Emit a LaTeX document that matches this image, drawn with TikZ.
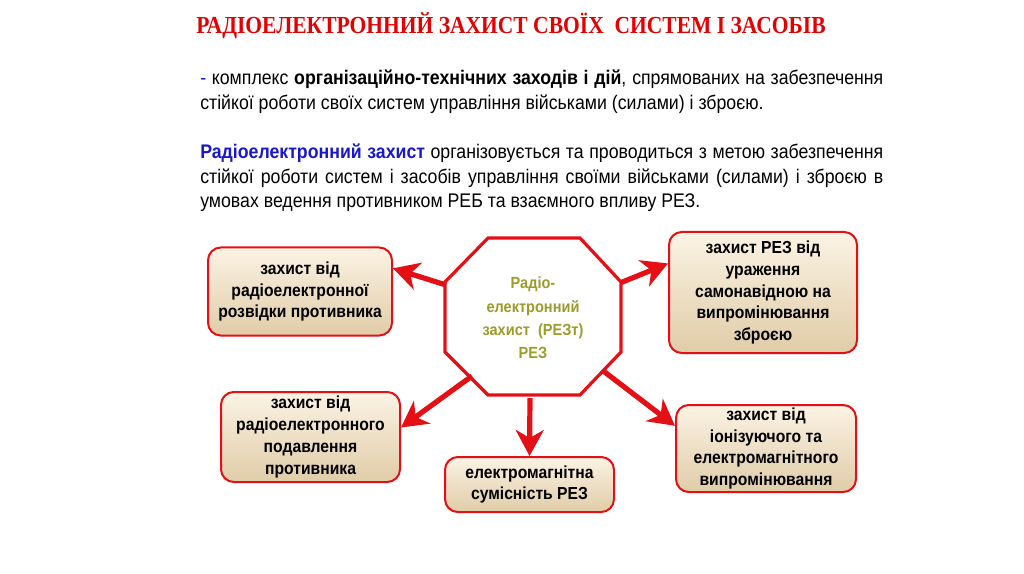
\documentclass[tikz,border=0pt]{standalone}
\usepackage{fontspec}
\setmainfont{Liberation Sans}
\newfontfamily\titlefont[FakeStretch=0.88]{Liberation Serif}
\newfontfamily\narrowfont[FakeStretch=0.9]{Liberation Sans}
\usetikzlibrary{positioning,arrows.meta}
\definecolor{rezred}{RGB}{228,16,22}
\definecolor{titlered}{RGB}{226,0,0}
\definecolor{rezblue}{RGB}{24,24,200}
\definecolor{coretext}{RGB}{156,156,44}
\definecolor{boxtop}{RGB}{251,243,228}
\definecolor{boxbot}{RGB}{224,204,168}
\tikzset{
  zone/.style={draw=rezred,line width=0.5mm,rounded corners=3.2mm,top color=boxtop,bottom color=boxbot,
    align=center,inner sep=0pt,font=\narrowfont\bfseries\fontsize{12.4}{15.6}\selectfont},
  octo/.style={draw=rezred,line width=0.8mm,fill=white},
  link/.style={draw=rezred,line width=1.3mm,-{Stealth[length=6.5mm,width=7mm,inset=2mm]}},
  para/.style={anchor=north west,inner sep=0pt,text width=170.75mm,align=justify,
    font=\narrowfont\fontsize{14}{17.3}\selectfont},
  headline/.style={inner sep=0pt,text=titlered,font=\titlefont\bfseries\fontsize{17.4}{20}\selectfont}
}
\begin{document}
\begin{tikzpicture}[x=0.25mm,y=-0.25mm]
  \useasboundingbox (0,0) rectangle (1024,574);
  % title and text
  \node[headline] (title) at (511,26) {РАДІОЕЛЕКТРОННИЙ ЗАХИСТ СВОЇХ\ \ СИСТЕМ І ЗАСОБІВ};
  \node[para] (p1) at (200,70) {{\color{rezblue}-} комплекс \textbf{організаційно-технічних заходів і дій}, спрямованих на забезпечення\linebreak
    стійкої роботи своїх систем управління військами (силами) і зброєю.};
  \node[para,below=7.6mm of p1.south west,anchor=north west] (p2) {\textcolor{rezblue}{\textbf{Радіоелектронний захист}} організовується та проводиться з метою забезпечення\linebreak
    стійкої роботи систем і засобів управління своїми військами (силами) і зброєю в\linebreak
    умовах ведення противником РЕБ та взаємного впливу РЕЗ.};
  % octagon
  \coordinate (o1) at (488,238); \coordinate (o2) at (580,238);
  \coordinate (o3) at (621,282); \coordinate (o4) at (621,352);
  \coordinate (o5) at (580,395); \coordinate (o6) at (488,395);
  \coordinate (o7) at (445,352); \coordinate (o8) at (445,282);
  \draw[octo] (o1)--(o2)--(o3)--(o4)--(o5)--(o6)--(o7)--(o8)--cycle;
  \node[align=center,text=coretext,font=\narrowfont\bfseries\fontsize{11.5}{16.6}\selectfont] (core) at (533,318)
    {Радіо-\\електронний\\захист\ \ (РЕЗт)\\РЕЗ};
  % boxes
  \node[zone,minimum width=46mm,minimum height=22mm] (b1) at (300,291.5) {захист від\\радіоелектронної\\розвідки противника};
  \node[zone,minimum width=44.75mm,minimum height=22.5mm] (b2) at (310.5,437) {захист від\\радіоелектронного\\подавлення\\противника};
  \node[zone,minimum width=42.25mm,minimum height=13.75mm] (b3) at (529.5,484.5) {електромагнітна\\сумісність РЕЗ};
  \node[zone,minimum width=47mm,minimum height=30.25mm] (b4) at (763,292.5) {захист РЕЗ від\\ураження\\самонавідною на\\випромінювання\\зброєю};
  \node[zone,minimum width=45mm,minimum height=21.75mm] (b5) at (766,448.5) {захист від\\іонізуючого та\\електромагнітного\\випромінювання};
  % arrows
  \coordinate (t1) at (446,285); \coordinate (t2) at (472,376);
  \coordinate (t3) at (530,398); \coordinate (t4) at (620,283);
  \coordinate (t5) at (602,370);
  \draw[link] (t1) -- (b1.14);
  \draw[link] (t2) -- (b2.6);
  \draw[link] (t3) -- (b3.north);
  \draw[link] (t4) -- (b4.163);
  \draw[link] (t5) -- (b5.166);
\end{tikzpicture}
\end{document}
